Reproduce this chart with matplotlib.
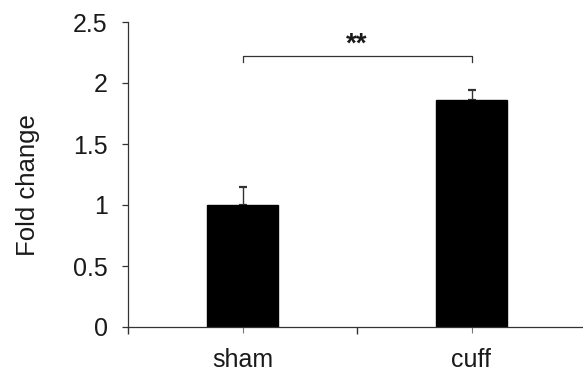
import matplotlib
matplotlib.use('Agg')
import matplotlib.pyplot as plt
from matplotlib.ticker import FixedLocator

GROUPS = ['sham', 'cuff']
FOLD_CHANGE = [1.0, 1.86]
SEM = [0.15, 0.08]
BRACKET_Y = 2.22
BRACKET_DROP = 0.05
SIG_LABEL = '**'
Y_TICKS = [0, 0.5, 1, 1.5, 2, 2.5]
Y_TICK_LABELS = ['0', '0.5', '1', '1.5', '2', '2.5']

TEXT_COL = '#1a1a1a'
AXIS_COL = '#333333'
FS = 18

plt.rcParams['font.family'] = ['Liberation Sans', 'DejaVu Sans']

fig = plt.figure(figsize=(5.83, 3.78), dpi=100)
ax = fig.add_axes([128 / 583, 51 / 378, 458 / 583, 305 / 378])

xs = list(range(len(GROUPS)))
ax.bar(xs, FOLD_CHANGE, width=0.31, color='black', edgecolor='black', zorder=2)
ax.errorbar(xs, FOLD_CHANGE, yerr=[[0, 0], SEM], fmt='none', ecolor='#333333',
            elinewidth=1.0, capsize=3, capthick=1.6, zorder=1)

# significance bracket
ax.plot([xs[0], xs[0], xs[1], xs[1]],
        [BRACKET_Y - BRACKET_DROP, BRACKET_Y, BRACKET_Y, BRACKET_Y - BRACKET_DROP],
        color='#333333', lw=0.9, clip_on=False)
ax.text((xs[0] + xs[1]) / 2, BRACKET_Y + 0.04, SIG_LABEL, ha='center', va='baseline',
        fontsize=20, color=TEXT_COL, fontweight='bold')

ax.set_xlim(-0.5, 1.5)
ax.set_ylim(0, 2.5)
ax.set_yticks(Y_TICKS)
ax.set_yticklabels(Y_TICK_LABELS)
ax.set_xticks(xs)
ax.set_xticklabels(GROUPS)
ax.xaxis.set_minor_locator(FixedLocator([-0.5, 0.5]))

for side in ['top', 'right']:
    ax.spines[side].set_visible(False)
for side in ['left', 'bottom']:
    ax.spines[side].set_color(AXIS_COL)
    ax.spines[side].set_linewidth(0.9)

ax.tick_params(axis='y', direction='out', length=4.5, width=0.9, color=AXIS_COL,
               labelsize=FS, labelcolor=TEXT_COL, pad=10)
ax.tick_params(axis='x', which='major', direction='out', length=4, width=0.8,
               color='#777777', labelsize=FS, labelcolor=TEXT_COL, pad=11)
ax.tick_params(axis='x', which='minor', direction='out', length=5, width=1.0,
               color=AXIS_COL)

ax.set_ylabel('Fold change', fontsize=18.5, color=TEXT_COL)
ax.yaxis.set_label_coords(-0.193, 0.466)

fig.savefig('out.png', dpi=100)
